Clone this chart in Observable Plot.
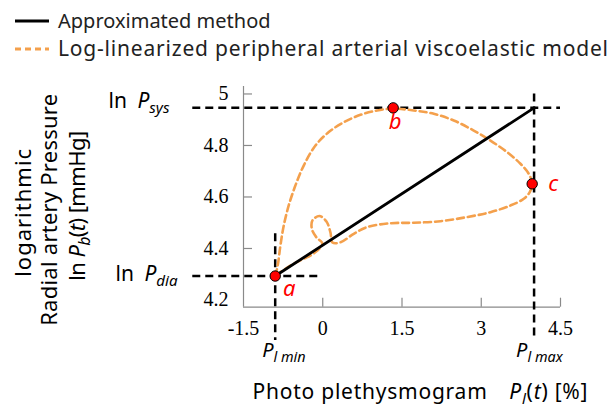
<!DOCTYPE html>
<html>
<head>
<meta charset="utf-8">
<script src="https://cdn.jsdelivr.net/npm/d3@7"></script>
<script src="https://cdn.jsdelivr.net/npm/@observablehq/plot@0.6"></script>
<style>
  html, body { margin: 0; padding: 0; background: #fff; }
  #legend svg { display: block; }
  #chart g[aria-label$="tick label"] text { font-family: "Liberation Serif", "Times New Roman", serif; }
</style>
</head>
<body>
<div id="legend"></div>
<div id="chart"></div>
<script>
// ---- data ----
const legendLabels = ["Approximated method", "Log-linearized peripheral arterial viscoelastic model"];
const xTicks = [-1.5, 0, 1.5, 3, 4.5];
const yTicks = [4.2, 4.4, 4.6, 4.8, 5];
const approxX = [-0.9, 4.0];
const approxY = [4.293, 4.946];
const loopX = [-0.9, -0.852, -0.801, -0.738, -0.644, -0.517, -0.360, -0.138, 0.114, 0.397, 0.714, 1.030, 1.333, 1.722, 2.101, 2.480, 2.858, 3.174, 3.490, 3.742, 3.899, 3.964, 3.918, 3.805, 3.553, 3.174, 2.733, 2.228, 1.722, 1.281, 0.840, 0.587, 0.335, 0.184, 0.146, 0.070, -0.062, -0.195, -0.204, -0.119, -0.006, -0.157, -0.360, -0.549, -0.801, -0.9];
const loopY = [4.293, 4.334, 4.412, 4.489, 4.567, 4.645, 4.722, 4.800, 4.852, 4.890, 4.919, 4.936, 4.943, 4.936, 4.923, 4.897, 4.858, 4.819, 4.774, 4.729, 4.690, 4.651, 4.619, 4.593, 4.567, 4.541, 4.522, 4.506, 4.500, 4.498, 4.483, 4.457, 4.424, 4.423, 4.462, 4.505, 4.526, 4.509, 4.474, 4.443, 4.419, 4.383, 4.360, 4.341, 4.308, 4.293];
const keyNames = ["a", "b", "c"];
const keyX = [-0.9, 1.333, 3.964];
const keyY = [4.293, 4.946, 4.651];
const pDia = 4.293, pSys = 4.946, plMin = -0.9, plMax = 4.0;
const xDomain = [-1.5, 4.5];
const yDomain = [4.172, 5.029];
// extents of the dashed guide lines
const sysLineX = [-2.46, 4.5];
const diaLineX = [-2.46, -0.04];
const minLineY = [4.457, 4.043];
const maxLineY = [5.0, 4.043];

// ---- styles ----
const ORANGE = "#f4a04c";
const SANS = "'Noto Sans', sans-serif";
const SERIF = "'Liberation Serif', 'Times New Roman', serif";
const AXIS = "#8a8a8a";

// ---- legend (svg above the chart) ----
const lg = d3.select("#legend").append("svg").attr("width", 614).attr("height", 65);
const rows = [
  {label: legendLabels[0], y: 21, stroke: "#000", dash: null, size: 20, len: null},
  {label: legendLabels[1], y: 49, stroke: ORANGE, dash: "6,4", size: 21, len: 550}
];
for (const r of rows) {
  lg.append("line").attr("x1", 15).attr("x2", 49).attr("y1", r.y).attr("y2", r.y)
    .attr("stroke", r.stroke).attr("stroke-width", 3).attr("stroke-dasharray", r.dash);
  const t = lg.append("text").attr("x", 58).attr("y", r.y).attr("dy", "0.35em")
    .attr("font-family", SANS).attr("font-size", r.size).attr("fill", "#222").text(r.label);
  if (r.len) t.attr("textLength", r.len).attr("lengthAdjust", "spacing");
}

// ---- rich text definitions ("" normal, "i" italic, "s" italic subscript) ----
const rich = new Map([
  ["ln Psys", [["ln\u2002", ""], ["P", "i"], ["sys", "s"]]],
  ["ln Pdia", [["ln\u2002", ""], ["P", "i"], ["dia", "s"]]],
  ["Pl min", [["P", "i"], ["l min", "s"]]],
  ["Pl max", [["P", "i"], ["l max", "s"]]],
  ["ln Pb(t) [mmHg]", [["ln ", ""], ["P", "i"], ["b", "s"], ["(", ""], ["t", "i"], [") [mmHg]", ""]]],
  ["Photo plethysmogram  Pl(t) [%]", [["Photo plethysmogram\u2003", ""], ["P", "i"], ["l", "s"], ["(", ""], ["t", "i"], [") [%]", ""]]]
]);
const lengths = new Map([
  ["Photo plethysmogram  Pl(t) [%]", 335],
  ["logarithmic", 128],
  ["Radial artery Pressure", 232],
  ["ln Pb(t) [mmHg]", 150]
]);

const dashK = {stroke: "#000", strokeWidth: 2.5, strokeDasharray: "8,5"};
const labelOffsets = [[14, 13], [2, 14], [21, 0]];
const fmt = d => String(d);

const plot = Plot.plot({
  width: 614,
  height: 344,
  marginLeft: 243,
  marginRight: 54,
  marginTop: 21,
  marginBottom: 102.3,
  x: {domain: xDomain},
  y: {domain: yDomain},
  style: {fontFamily: SERIF, fontSize: "20px", overflow: "visible", color: "#000", background: "transparent"},
  marks: [
    // axes
    Plot.ruleX([xDomain[0]], {stroke: AXIS, strokeWidth: 1.2}),
    Plot.ruleY([yDomain[0]], {stroke: AXIS, strokeWidth: 1.2}),
    Plot.ruleX(xTicks.slice(1), {y1: yDomain[0], y2: yDomain[0], insetTop: -9, stroke: AXIS, strokeWidth: 1.2}),
    Plot.ruleY(yTicks.slice(1), {x1: xDomain[0], x2: xDomain[0], insetRight: -9, stroke: AXIS, strokeWidth: 1.2}),
    Plot.axisX({ticks: xTicks, tickFormat: fmt, tickSize: 0, tickPadding: 14, label: null, fontFamily: SERIF, fontSize: 20}),
    Plot.axisY({ticks: yTicks, tickFormat: fmt, tickSize: 0, tickPadding: 15, label: null, fontFamily: SERIF, fontSize: 20}),
    // dashed guides
    Plot.ruleY([pSys], {x1: sysLineX[0], x2: sysLineX[1], ...dashK}),
    Plot.ruleY([pDia], {x1: diaLineX[0], x2: diaLineX[1], ...dashK}),
    Plot.ruleX([plMin], {y1: minLineY[0], y2: minLineY[1], ...dashK}),
    Plot.ruleX([plMax], {y1: maxLineY[0], y2: maxLineY[1], ...dashK}),
    // model loop
    Plot.line(loopX, {x: loopX, y: loopY, curve: "catmull-rom", stroke: ORANGE, strokeWidth: 2.6, strokeDasharray: "7,4"}),
    // approximated method
    Plot.line(approxX, {x: approxX, y: approxY, stroke: "#000", strokeWidth: 2.8}),
    // key points
    Plot.dot(keyNames, {x: keyX, y: keyY, r: 5.2, fill: "#ff0000", stroke: "#000", strokeWidth: 1}),
    ...keyNames.map((n, i) => Plot.text([n], {x: () => keyX[i], y: () => keyY[i], dx: labelOffsets[i][0], dy: labelOffsets[i][1],
      fill: "#ff0000", fontStyle: "italic", fontFamily: SANS, fontSize: 22})),
    // left labels
    Plot.text(["ln Psys"], {y: () => pSys, frameAnchor: "left", dx: -135, dy: -7, textAnchor: "start", fontFamily: SANS, fontSize: 21}),
    Plot.text(["ln Pdia"], {y: () => pDia, frameAnchor: "left", dx: -128, dy: -2, textAnchor: "start", fontFamily: SANS, fontSize: 21}),
    // bottom labels
    Plot.text(["Pl min"], {x: () => plMin, frameAnchor: "bottom", dx: -13, dy: 50, textAnchor: "start", fontFamily: SANS, fontSize: 20}),
    Plot.text(["Pl max"], {x: () => plMax, frameAnchor: "bottom", dx: -18, dy: 50, textAnchor: "start", fontFamily: SANS, fontSize: 20}),
    // axis titles
    Plot.text(["Photo plethysmogram  Pl(t) [%]"], {frameAnchor: "bottom-left", dx: 9, dy: 92, textAnchor: "start", fontFamily: SANS, fontSize: 21}),
    Plot.text(["logarithmic"], {frameAnchor: "left", rotate: -90, dx: -220, dy: 16, textAnchor: "middle", fontFamily: SANS, fontSize: 22}),
    Plot.text(["Radial artery Pressure"], {frameAnchor: "left", rotate: -90, dx: -194, dy: 13, textAnchor: "middle", fontFamily: SANS, fontSize: 22}),
    Plot.text(["ln Pb(t) [mmHg]"], {frameAnchor: "left", rotate: -90, dx: -166, dy: 9, textAnchor: "middle", fontFamily: SANS, fontSize: 22})
  ]
});

// turn plain label strings into rich text with italics and subscripts, and fit lengths
d3.select(plot).selectAll("text").each(function () {
  const key = this.textContent;
  const sel = d3.select(this);
  if (lengths.has(key)) sel.attr("textLength", lengths.get(key)).attr("lengthAdjust", "spacing");
  if (!rich.has(key)) return;
  sel.text(null);
  let shifted = false;
  for (const [t, st] of rich.get(key)) {
    const ts = sel.append("tspan").text(t);
    if (st) ts.attr("font-style", "italic");
    if (st === "s") {
      ts.attr("font-size", "0.72em");
      if (!shifted) ts.attr("dy", 5);
      shifted = true;
    } else if (shifted) {
      ts.attr("dy", -5);
      shifted = false;
    }
  }
});

document.getElementById("chart").appendChild(plot);
</script>
</body>
</html>
